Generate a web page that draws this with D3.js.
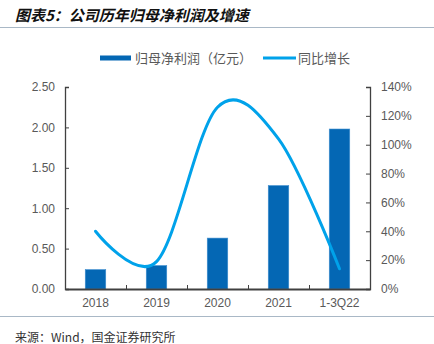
<!DOCTYPE html>
<html><head><meta charset="utf-8">
<script src="https://cdn.jsdelivr.net/npm/d3@7"></script>
<style>body{margin:0;background:#fff;}svg{display:block;font-family:"Noto Sans CJK SC","Liberation Sans",Arial,sans-serif;}</style>
</head><body><svg id="c" width="434" height="344"></svg>
<script>
const categories = ["2018","2019","2020","2021","1-3Q22"];
const profit = [0.24, 0.29, 0.63, 1.28, 1.98];
const growth = [0.40, 0.19, 1.26, 1.04, 0.14];
const leftTicks = [0,0.5,1,1.5,2,2.5];
const rightTicks = [0,0.2,0.4,0.6,0.8,1.0,1.2,1.4];
const title = "图表5：公司历年归母净利润及增速";
const source = "来源：Wind，国金证券研究所";
const legendLabels = ["归母净利润（亿元）","同比增长"];

const svg = d3.select("#c");
const barColor = "#0467b4", lineColor = "#00a2ea", txt = "#595959", axisCol = "#404040";
const L = 65, R = 370, T = 87, B = 289;

const x = d3.scaleBand().domain(categories).range([L,R]).padding(0);
const yL = d3.scaleLinear().domain([0,2.5]).range([B,T]);
const yR = d3.scaleLinear().domain([0,1.4]).range([B,T]);

// title
svg.append("text").attr("x",15).attr("y",21).attr("font-size",15).attr("font-weight","bold")
  .attr("font-style","italic").attr("fill","#111").text(title);
svg.append("line").attr("x1",0).attr("x2",434).attr("y1",27.5).attr("y2",27.5).attr("stroke","#a9b8c6").attr("stroke-width",1.2);
svg.append("line").attr("x1",0).attr("x2",434).attr("y1",316.5).attr("y2",316.5).attr("stroke","#a9b8c6").attr("stroke-width",1.2);
svg.append("text").attr("x",15).attr("y",342).attr("font-size",12).attr("fill","#333").text(source);

// legend
svg.append("rect").attr("x",100).attr("y",55.5).attr("width",31).attr("height",5).attr("fill",barColor);
svg.append("text").attr("x",135).attr("y",63).attr("font-size",13).attr("fill",txt).text(legendLabels[0]);
svg.append("line").attr("x1",263).attr("x2",296).attr("y1",58).attr("y2",58).attr("stroke",lineColor).attr("stroke-width",3);
svg.append("text").attr("x",298).attr("y",63).attr("font-size",13).attr("fill",txt).text(legendLabels[1]);

// bars
const bw = 20.5;
svg.selectAll("rect.bar").data(categories).enter().append("rect").attr("class","bar")
  .attr("x",d=>x(d)+x.bandwidth()/2-bw/2).attr("width",bw)
  .attr("y",(d,i)=>yL(profit[i])).attr("height",(d,i)=>B-yL(profit[i]))
  .attr("fill",barColor).attr("stroke","#3f8fd0").attr("stroke-width",0.6);

// axes
const gl = svg.append("g").attr("transform",`translate(${L},0)`)
  .call(d3.axisLeft(yL).tickValues(leftTicks).tickFormat(d3.format(".2f")).tickSizeInner(-4).tickSizeOuter(-4).tickPadding(10));
const gr = svg.append("g").attr("transform",`translate(${R},0)`)
  .call(d3.axisRight(yR).tickValues(rightTicks).tickFormat(d3.format(".0%")).tickSizeInner(-4).tickSizeOuter(-4).tickPadding(11));
const gb = svg.append("g").attr("transform",`translate(0,${B})`)
  .call(d3.axisBottom(x).tickSize(0).tickPadding(9));
// category boundary ticks
const xb = d3.scaleLinear().domain([0,5]).range([L,R]);
svg.append("g").attr("transform",`translate(0,${B})`)
  .call(d3.axisBottom(xb).tickValues([1,2,3,4]).tickFormat("").tickSizeInner(-4).tickSizeOuter(0))
  .select(".domain").remove();
svg.selectAll(".tick line").attr("stroke",axisCol);
svg.selectAll(".domain").attr("stroke",axisCol).attr("stroke-width",1.3);
gb.select(".domain").attr("stroke-width",1.8);
[gl,gr,gb].forEach(g=>g.selectAll("text").attr("font-size",12).attr("fill",txt).attr("font-family","Liberation Sans, Arial, sans-serif"));

// line
const line = d3.line().x((d,i)=>x(categories[i])+x.bandwidth()/2).y(d=>yR(d)).curve(d3.curveCardinal.tension(0));
svg.append("path").datum(growth).attr("d",line).attr("fill","none").attr("stroke",lineColor)
  .attr("stroke-width",3).attr("stroke-linecap","round");
</script></body></html>
